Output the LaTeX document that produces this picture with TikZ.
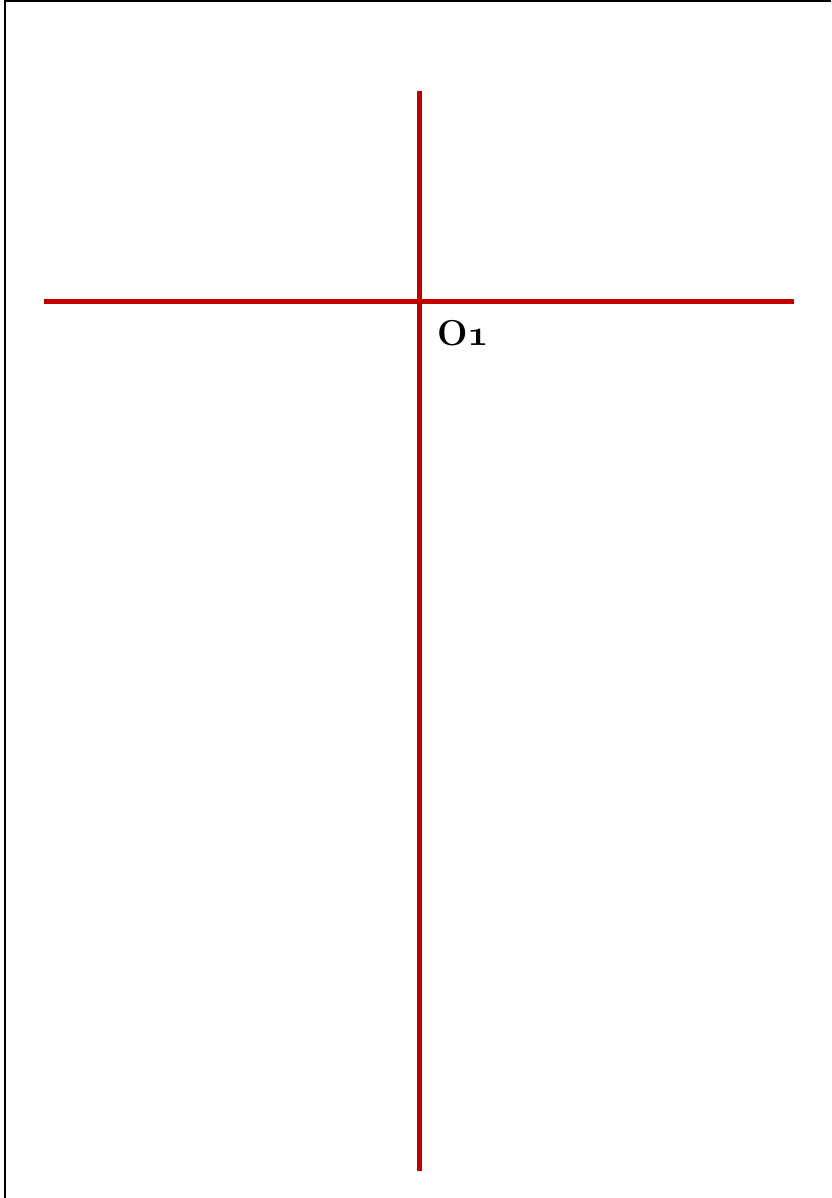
\RequirePackage{fix-cm}
\documentclass[tikz,border=0pt]{standalone}
\definecolor{axisred}{RGB}{192,0,0}
\newcommand{\boldoldone}{{\usefont{OML}{cmm}{b}{it}1}}
\begin{document}
\begin{tikzpicture}[x=1pt,y=-1pt,
  axisline/.style={draw=axisred,line width=5pt},
  frameline/.style={draw=black,line width=2pt},
  lbl/.style={font=\fontsize{36}{40}\selectfont\bfseries,inner sep=0pt,anchor=base west}]
\useasboundingbox (0,0) rectangle (831,1198);
\coordinate (fl) at (5,1198);
\coordinate (fc) at (5,1.5);
\coordinate (fr) at (831,1.5);
\draw[frameline] (fl) -- (fc) -- (fr);
\coordinate (vt) at (419,91);
\coordinate (vb) at (419,1171);
\coordinate (hl) at (44,301);
\coordinate (hr) at (794,301);
\draw[axisline] (hl) -- (hr);
\draw[axisline] (vt) -- (vb);
\node[lbl] (o1) at (437,345) {O\boldoldone};
\end{tikzpicture}
\end{document}
